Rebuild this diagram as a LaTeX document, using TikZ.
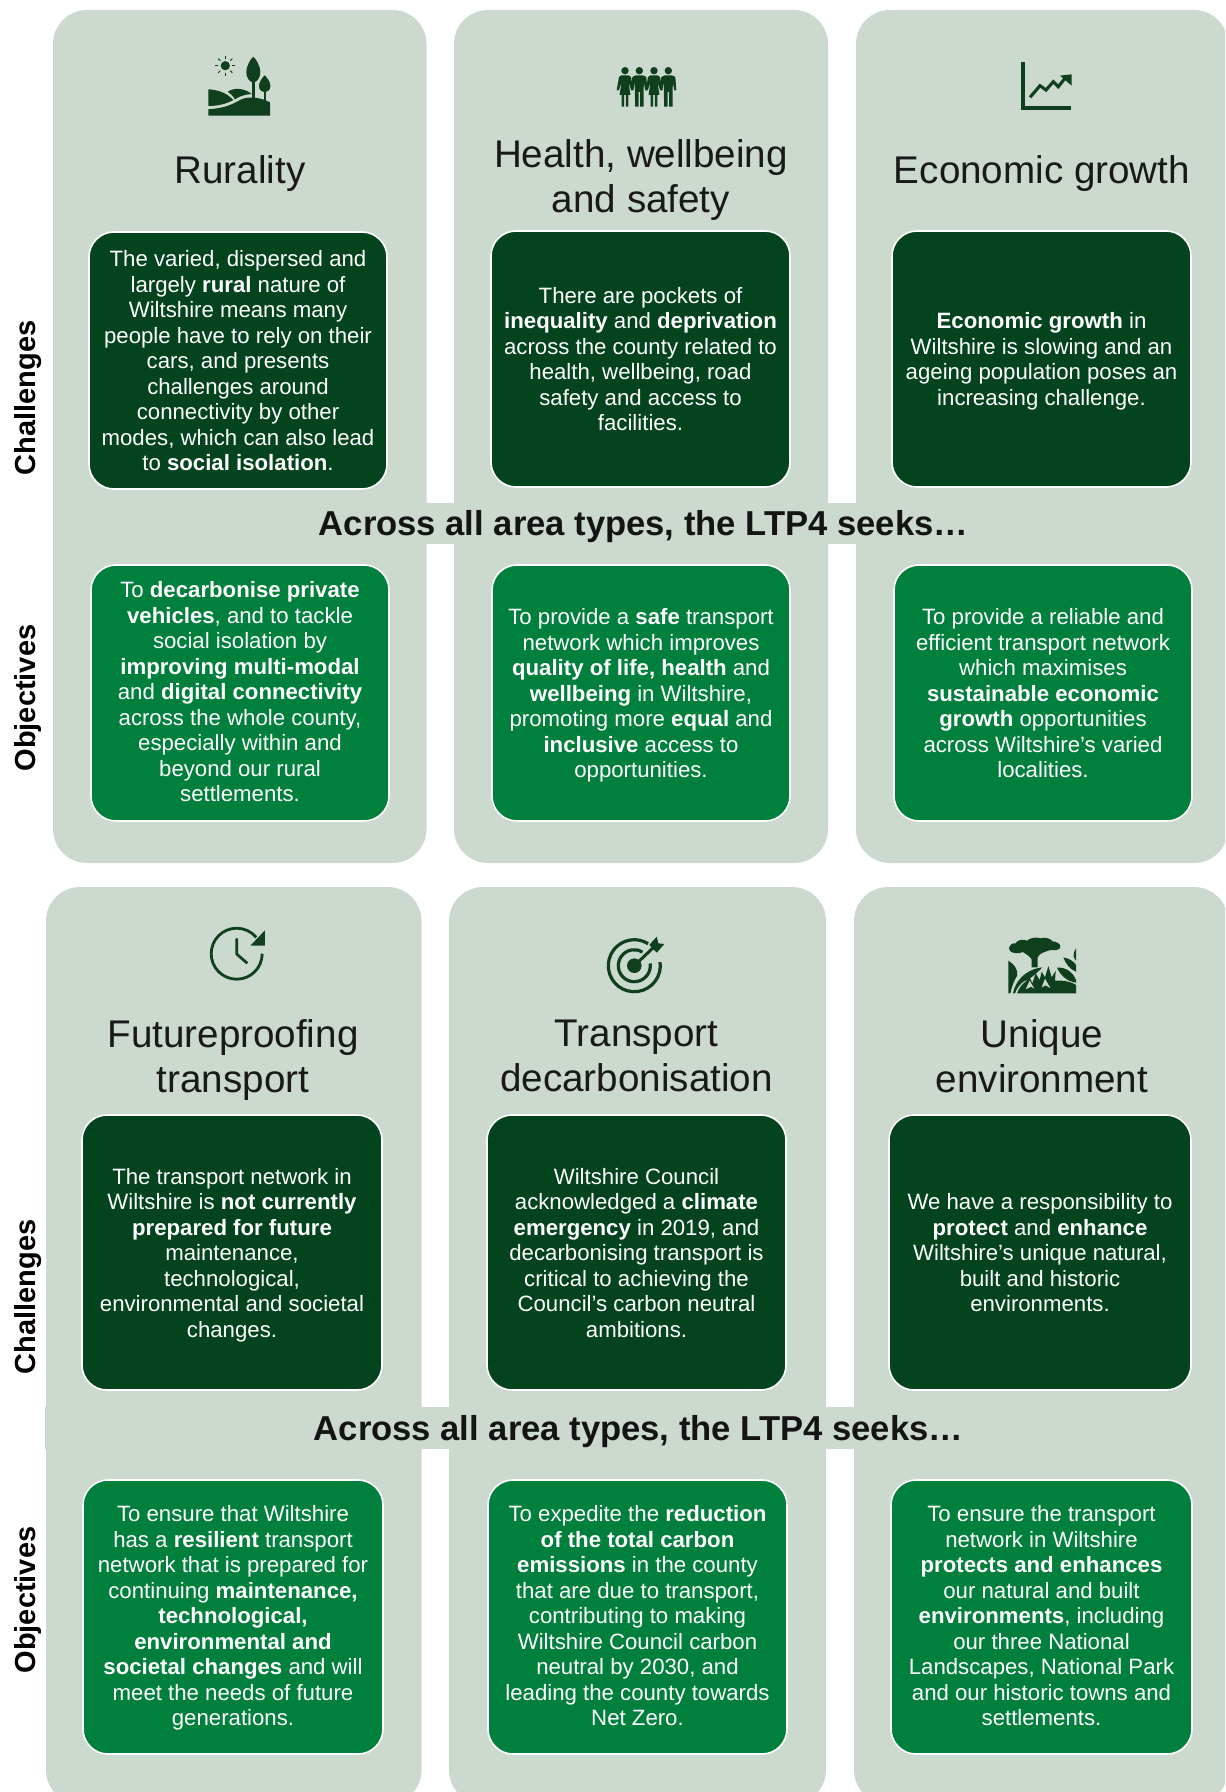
\documentclass[tikz,border=0pt]{standalone}
\usepackage{fontspec}
\setmainfont{Liberation Sans}
\definecolor{panelc}{HTML}{CCD9CF}
\definecolor{darkc}{HTML}{03441F}
\definecolor{greenc}{HTML}{00803C}
\definecolor{iconc}{HTML}{0F3F1C}
\tikzset{
  boxbase/.style={rounded corners=12.5pt,draw=white,line width=0.8pt,inner sep=0pt,align=center,text=white,text depth=0pt,font=\fontsize{11.1}{12.75}\selectfont},
  chalbox/.style={boxbase,fill=darkc},
  objbox/.style={boxbase,fill=greenc},
  raised/.style={text depth=1.2pt},
  paneltitle/.style={align=center,inner sep=0pt,text=black!90,text depth=0pt,font=\fontsize{19.3}{22.3}\selectfont},
  seeks/.style={inner sep=0pt,text=black!92,text depth=0pt,font=\fontsize{17.3}{20}\selectfont\bfseries},
  sidelabel/.style={inner sep=0pt,rotate=90,text=black,font=\fontsize{14.5}{17}\selectfont\bfseries},
  panelfill/.style={fill=panelc,rounded corners=17pt},
}
\newcommand{\ibox}[7]{%
  \pgfmathsetmacro{\bw}{(#5-#3)*0.5}%
  \pgfmathsetmacro{\bh}{(#6-#4)*0.5}%
  \node[#2,minimum width=\bw pt,minimum height=\bh pt] (#1) at ({(#3+#5)/2},{(#4+#6)/2}) {#7};}
\newcommand{\manfig}[1]{%
  \begin{scope}[shift={(#1,0)}]
    \fill[iconc] (0,70.7) circle (3.7);
    \fill[iconc] (-7,77) -- (-3.5,75.3) -- (3.5,75.3) -- (7,77) -- (8,90) -- (6,90.5) -- (4.5,82) -- (4.2,106.7) -- (0.8,106.7) -- (0.8,92) -- (-0.8,92) -- (-0.8,106.7) -- (-4.2,106.7) -- (-4.5,82) -- (-6,90.5) -- (-8,90) -- cycle;
  \end{scope}}
\newcommand{\womanfig}[1]{%
  \begin{scope}[shift={(#1,0)}]
    \fill[iconc] (0,70.7) circle (3.7);
    \fill[iconc] (-6,77) -- (-3.5,75.3) -- (3.5,75.3) -- (6,77) -- (8.3,90) -- (6.3,90.5) -- (3.4,82) -- (5.5,95) -- (3.4,95) -- (3.4,106.7) -- (0.8,106.7) -- (0.8,95) -- (-0.8,95) -- (-0.8,106.7) -- (-3.4,106.7) -- (-3.4,95) -- (-5.5,95) -- (-3.4,82) -- (-6.3,90.5) -- (-8.3,90) -- cycle;
  \end{scope}}
\begin{document}
\begin{tikzpicture}[x=0.5pt,y=-0.5pt]
\clip (0,0) rectangle (1225,1792);
% panels, top
\fill[panelfill] (53,10) rectangle (426.5,863);
\fill[panelfill] (454,10) rectangle (828,863);
\fill[panelfill] (856,10) rectangle (1228,863);
\fill[panelc] (426,503) rectangle (856,544);
% panels, bottom
\fill[panelfill] (46,887) rectangle (421.5,1804);
\fill[panelfill] (449,887) rectangle (826,1804);
\fill[panelfill] (854,887) rectangle (1228,1804);
\fill[panelc] (45,1407) rectangle (854,1449);

% icon: rurality
\fill[iconc] (225.3,65.7) circle (4.6);
\foreach \a in {0,45,...,315}{\draw[iconc,line width=0.5pt] (225.3,65.7) ++(\a:7) -- ++(\a:3);}
\fill[iconc] (253.3,56.7) .. controls (257,60) and (260.3,67) .. (260.3,72) .. controls (260.3,78) and (257,82.3) .. (253.3,82.3) .. controls (249.6,82.3) and (246.3,78) .. (246.3,72) .. controls (246.3,67) and (249.6,60) .. (253.3,56.7) -- cycle;
\fill[iconc] (252,80) rectangle (254.7,98);
\fill[iconc] (264.7,75.3) .. controls (267,77.5) and (270.4,82) .. (270.4,86) .. controls (270.4,90) and (267.5,92.3) .. (264.7,92.3) .. controls (261.9,92.3) and (259,90) .. (259,86) .. controls (259,82) and (262.4,77.5) .. (264.7,75.3) -- cycle;
\fill[iconc] (263.6,90) rectangle (265.8,102);
\fill[iconc] (208.3,89.3) .. controls (217,90) and (226,92) .. (233.3,100) .. controls (226,104) and (218,106) .. (208.3,106) -- cycle;
\fill[iconc] (227.7,91.7) .. controls (235,87) and (245,88.5) .. (251.7,94) .. controls (245,94.5) and (240,96) .. (235,99.3) .. controls (233,96) and (230.5,93.5) .. (227.7,91.7) -- cycle;
\fill[iconc] (208.3,109.3) .. controls (222,108.5) and (232,105) .. (240,100) .. controls (247,96) and (260,97) .. (270,102.3) -- (270,115.7) -- (208.3,115.7) -- cycle;

% icon: people
\womanfig{625}\manfig{639.3}\womanfig{654}\manfig{668.3}

% icon: chart
\draw[iconc,line width=1.9pt] (1023.3,62.3) -- (1023.3,108.3) -- (1071,108.3);
\draw[iconc,line width=1.55pt] (1030,97.3) -- (1040,85.7) -- (1046,90) -- (1053.3,81.7) -- (1058.3,86.7) -- (1065,78.3);
\fill[iconc] (1071.7,74.3) -- (1060,75.7) -- (1071.7,85.7) -- cycle;

% icon: clock
\draw[iconc,line width=1.4pt] (236.7,953.7) ++(0:25.5) arc[start angle=0,end angle=320,radius=25.5];
\fill[iconc] (264.8,930.5) -- (264.8,945.5) -- (250.5,945.5) -- cycle;
\draw[iconc,line width=1.35pt] (236.7,938.3) -- (236.7,954) -- (247.3,963.3);

% icon: target
\draw[iconc,line width=1.6pt] (634.3,965.7) ++(-8:26) arc[start angle=-8,end angle=302,radius=26];
\draw[iconc,line width=1.6pt] (634.3,965.7) ++(-8:16) arc[start angle=-8,end angle=301,radius=16];
\fill[iconc] (634.3,965.7) circle (7.3);
\draw[iconc,line width=1.5pt] (634.3,965.7) -- (655,946);
\fill[iconc] (656.7,936.7) -- (658.3,943.3) -- (664.3,944) -- (656.7,952.7) -- (649.3,945) -- cycle;

% icon: landscape
\begin{scope}[shift={(995,930)},x=0.1667pt,y=-0.1667pt]
  % canopy and trunk
  \fill[iconc] (42,57) .. controls (42,46) and (52,38) .. (62,40) .. controls (66,30) and (84,26) .. (96,32) .. controls (104,24) and (124,20) .. (136,25) .. controls (150,20) and (168,26) .. (172,34) .. controls (184,34) and (197,42) .. (196,50) .. controls (196,60) and (180,62) .. (166,60) .. controls (150,66) and (134,68) .. (128,82) -- (128,112) -- (110,112) -- (110,88) .. controls (104,78) and (92,72) .. (84,66) .. controls (72,72) and (44,72) .. (42,57) -- cycle;
  % left leaf
  \fill[iconc] (40,92) .. controls (55,100) and (72,120) .. (66,138) .. controls (58,150) and (50,170) .. (46,190) -- (40,190) -- cycle;
  % big leaf
  \fill[iconc] (54,190) .. controls (60,155) and (90,118) .. (142,112) .. controls (125,130) and (105,148) .. (85,155) .. controls (72,165) and (64,178) .. (60,190) -- cycle;
  % right leaves
  \fill[iconc] (243,55) -- (243,92) .. controls (236,85) and (231,72) .. (243,55) -- cycle;
  \fill[iconc] (205,82) .. controls (222,85) and (238,95) .. (243,105) -- (243,125) .. controls (225,118) and (212,102) .. (205,82) -- cycle;
  \fill[iconc] (186,113) .. controls (212,110) and (235,128) .. (243,150) -- (243,158) .. controls (220,155) and (198,140) .. (186,113) -- cycle;
  % ground and grass
  \fill[iconc] (66,190) .. controls (72,175) and (80,162) .. (92,155) -- (104,142) -- (112,160) -- (122,130) -- (134,150) -- (140,125) -- (150,142) -- (160,108) -- (170,142) -- (182,122) -- (180,152) .. controls (200,150) and (230,155) .. (243,165) -- (243,190) -- cycle;
  % light cut-outs in the grass
  \fill[panelc] (92,178) -- (104,152) -- (118,176) -- (108,170) -- cycle;
  \fill[panelc] (140,172) -- (150,146) -- (166,174) -- (152,166) -- cycle;
\end{scope}

% titles
\node[paneltitle] (t1) at (240,170) {Rurality};
\node[paneltitle] (t2) at (641,176) {Health, wellbeing\\and safety};
\node[paneltitle] (t3) at (1042,170) {Economic growth};
\node[paneltitle] (t4) at (233,1056) {Futureproofing\\transport};
\node[paneltitle] (t5) at (636.5,1056) {Transport\\decarbonisation};
\node[paneltitle] (t6) at (1042,1056) {Unique\\environment};

% seeks
\node[seeks] (s1) at (643.5,523) {Across all area types, the LTP4 seeks…};
\node[seeks] (s2) at (638.5,1428) {Across all area types, the LTP4 seeks…};

% side labels
\node[sidelabel] (c1) at (28.5,398) {Challenges};
\node[sidelabel] (o1) at (28.5,698) {Objectives};
\node[sidelabel] (c2) at (28.5,1297) {Challenges};
\node[sidelabel] (o2) at (28.5,1600) {Objectives};

% top challenges
\ibox{b1}{chalbox}{89}{232}{387}{489}{The varied, dispersed and\\largely \textbf{rural} nature of\\Wiltshire means many\\people have to rely on their\\cars, and presents\\challenges around\\connectivity by other\\modes, which can also lead\\to \textbf{social isolation}.}
\ibox{b2}{chalbox}{491}{231}{790}{487}{There are pockets of\\\textbf{inequality} and \textbf{deprivation}\\across the county related to\\health, wellbeing, road\\safety and access to\\facilities.}
\ibox{b3}{chalbox}{892}{231}{1191}{487}{\textbf{Economic growth} in\\Wiltshire is slowing and an\\ageing population poses an\\increasing challenge.}
% top objectives
\ibox{b4}{objbox,raised}{91}{565}{389}{821}{To \textbf{decarbonise private}\\\textbf{vehicles}, and to tackle\\social isolation by\\\textbf{improving multi-modal}\\and \textbf{digital connectivity}\\across the whole county,\\especially within and\\beyond our rural\\settlements.}
\ibox{b5}{objbox}{492}{565}{790}{821}{To provide a \textbf{safe} transport\\network which improves\\\textbf{quality of life, health} and\\\textbf{wellbeing} in Wiltshire,\\promoting more \textbf{equal} and\\\textbf{inclusive} access to\\opportunities.}
\ibox{b6}{objbox}{894}{565}{1192}{821}{To provide a reliable and\\efficient transport network\\which maximises\\\textbf{sustainable economic}\\\textbf{growth} opportunities\\across Wiltshire’s varied\\localities.}
% bottom challenges
\ibox{b7}{chalbox}{82}{1115}{382}{1390}{The transport network in\\Wiltshire is \textbf{not currently}\\\textbf{prepared for future}\\maintenance,\\technological,\\environmental and societal\\changes.}
\ibox{b8}{chalbox,text depth=-2.3pt}{487}{1115}{786}{1390}{Wiltshire Council\\acknowledged a \textbf{climate}\\\textbf{emergency} in 2019, and\\decarbonising transport is\\critical to achieving the\\Council’s carbon neutral\\ambitions.}
\ibox{b9}{chalbox}{889}{1115}{1191}{1390}{We have a responsibility to\\\textbf{protect} and \textbf{enhance}\\Wiltshire’s unique natural,\\built and historic\\environments.}
% bottom objectives
\ibox{b10}{objbox,raised}{83}{1480}{383}{1754}{To ensure that Wiltshire\\has a \textbf{resilient} transport\\network that is prepared for\\continuing \textbf{maintenance,}\\\textbf{technological,}\\\textbf{environmental and}\\\textbf{societal changes} and will\\meet the needs of future\\generations.}
\ibox{b11}{objbox,raised}{488}{1480}{787}{1754}{To expedite the \textbf{reduction}\\\textbf{of the total carbon}\\\textbf{emissions} in the county\\that are due to transport,\\contributing to making\\Wiltshire Council carbon\\neutral by 2030, and\\leading the county towards\\Net Zero.}
\ibox{b12}{objbox,raised}{891}{1480}{1192}{1754}{To ensure the transport\\network in Wiltshire\\\textbf{protects and enhances}\\our natural and built\\\textbf{environments}, including\\our three National\\Landscapes, National Park\\and our historic towns and\\settlements.}
\end{tikzpicture}
\end{document}
